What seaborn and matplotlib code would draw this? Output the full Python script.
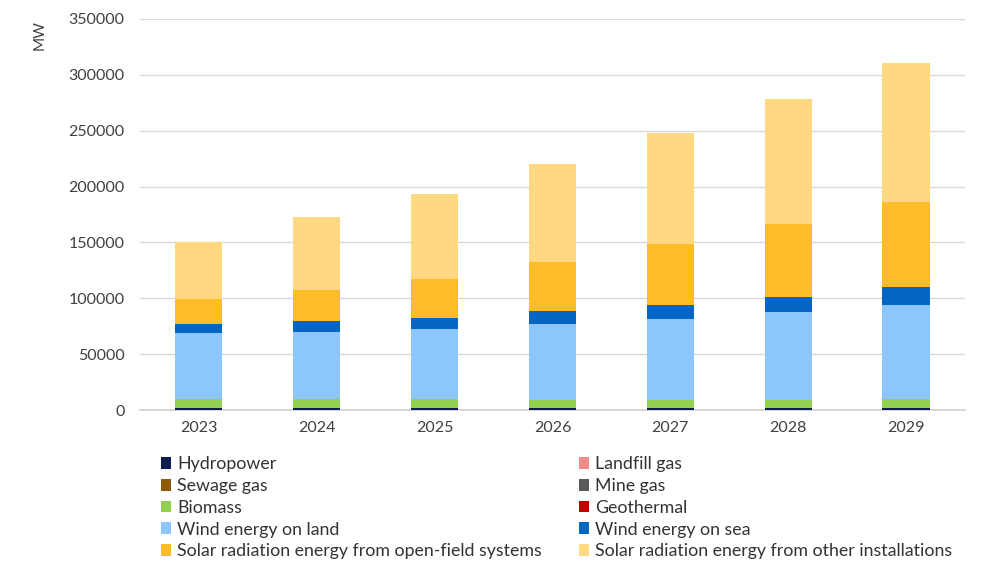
import matplotlib
matplotlib.use("Agg")
import matplotlib.pyplot as plt
from matplotlib.patches import Patch
import numpy as np
import pandas as pd
import seaborn as sns

# installed capacity in MW
years = ["2023", "2024", "2025", "2026", "2027", "2028", "2029"]

hydropower = [1550, 1550, 1550, 1550, 1550, 1550, 1550]
landfill_gas = [150, 150, 140, 130, 120, 110, 100]
sewage_gas = [200, 200, 200, 200, 200, 200, 200]
mine_gas = [120, 120, 110, 100, 100, 90, 90]
biomass = [7800, 7800, 7550, 6950, 7200, 7200, 7850]
geothermal = [50, 50, 60, 70, 80, 90, 100]
wind_land = [59000, 60200, 63150, 67700, 72400, 78400, 84050]
wind_sea = [8330, 9600, 9800, 11700, 12300, 13700, 16100]
solar_open = [22100, 27700, 34700, 44100, 54600, 65100, 76100]
solar_other = [51000, 65400, 76100, 87700, 99400, 111900, 124400]

sources = ["Hydropower", "Landfill gas", "Sewage gas", "Mine gas", "Biomass",
           "Geothermal", "Wind energy on land", "Wind energy on sea",
           "Solar radiation energy from open-field systems",
           "Solar radiation energy from other installations"]
colors = ["#0d1f4f", "#f28b8b", "#8c5a0a", "#595959", "#92d050",
          "#c00000", "#8dc6fd", "#0565c2", "#fdbd27", "#fed982"]

df = pd.DataFrame(
    [hydropower, landfill_gas, sewage_gas, mine_gas, biomass, geothermal,
     wind_land, wind_sea, solar_open, solar_other],
    index=sources, columns=years).T
cum = df.cumsum(axis=1)

sns.set_theme(style="white")
plt.rcParams["font.family"] = ["Lato", "DejaVu Sans"]

fig = plt.figure(figsize=(10, 5.63), dpi=100)
ax = fig.add_axes([0.14, 1 - 410 / 563, 0.825, (410 - 19) / 563])

# draw stacked bars from the top layer down so each covers the ones above
for src, col in zip(sources[::-1], colors[::-1]):
    sns.barplot(x=cum.index, y=cum[src].values, color=col, saturation=1,
                width=0.4, errorbar=None, ax=ax, zorder=3, linewidth=0)

ax.set_ylim(0, 350000)
ax.set_xlim(-0.5, 6.5)
ax.set_yticks(np.arange(0, 350001, 50000))
ax.yaxis.grid(True, color="#d9d9d9", linewidth=1)
ax.set_axisbelow(True)
for s in ["top", "right", "left"]:
    ax.spines[s].set_visible(False)
ax.spines["bottom"].set_color("#d0d0d0")
ax.spines["bottom"].set_linewidth(1.2)
ax.tick_params(axis="both", length=0, labelsize=11.5, colors="#404040")
ax.tick_params(axis="y", pad=11)
ax.tick_params(axis="x", pad=8)
ax.set_xlabel("")
ax.set_ylabel("")
fig.text(0.04, 1 - 35 / 563, "MW", rotation=90, ha="center", va="center",
         fontsize=11, color="#404040")

handles = [Patch(facecolor=c, edgecolor="none", label=s) for s, c in zip(sources, colors)]
leg_kw = dict(frameon=False, fontsize=12.8, handlelength=0.55, handleheight=0.65,
              handletextpad=0.35, labelspacing=0.33, loc="upper left",
              labelcolor="#333333", borderaxespad=0, borderpad=0)
leg1 = fig.legend(handles=handles[0::2], bbox_to_anchor=(0.161, 1 - 456 / 563), **leg_kw)
leg2 = fig.legend(handles=handles[1::2], bbox_to_anchor=(0.579, 1 - 456 / 563), **leg_kw)

fig.savefig("out.png", dpi=100, facecolor="white")
